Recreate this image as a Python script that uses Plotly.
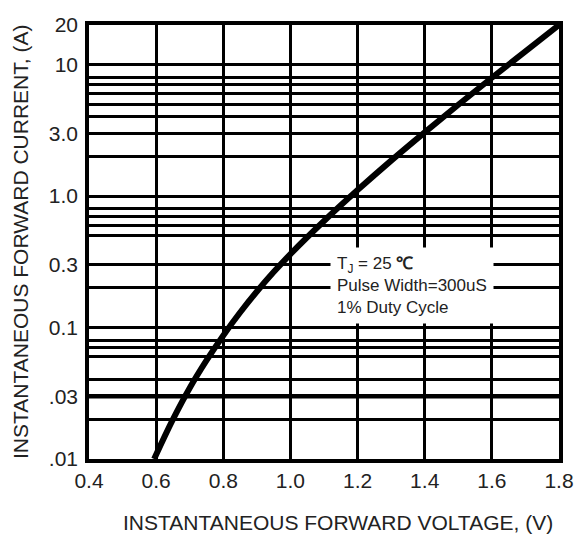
import math
import plotly.graph_objects as go

# Data
voltage = [0.594, 0.65, 0.70, 0.75, 0.80, 0.85, 0.90, 0.95, 1.00, 1.10, 1.20, 1.30, 1.40, 1.50, 1.60, 1.70, 1.80]
current = [0.01, 0.020, 0.0347, 0.0562, 0.0871, 0.130, 0.188, 0.264, 0.362, 0.646, 1.11, 1.86, 3.05, 4.95, 7.94, 12.6, 20]

x_tick_vals = [0.4, 0.6, 0.8, 1.0, 1.2, 1.4, 1.6, 1.8]
x_tick_text = ["0.4", "0.6", "0.8", "1.0", "1.2", "1.4", "1.6", "1.8"]
y_tick_vals = [20, 10, 3, 1, 0.3, 0.1, 0.03, 0.01]
y_tick_text = ["20", "10", "3.0", "1.0", "0.3", "0.1", ".03", ".01"]
y_minor_grid = [8, 7, 6, 5, 4, 2, 0.8, 0.7, 0.6, 0.5, 0.2, 0.08, 0.07, 0.06, 0.04, 0.02]
heavy_grid = [0.03]

x_title = "INSTANTANEOUS FORWARD VOLTAGE, (V)"
y_title = "INSTANTANEOUS FORWARD CURRENT, (A)"
note = "T<sub>J</sub> = 25 <b>℃</b><br>Pulse Width=300uS<br>1% Duty Cycle"

FONT = "Liberation Sans, Arial, sans-serif"
TXT = "#222222"

fig = go.Figure()
for g in heavy_grid:
    fig.add_trace(go.Scatter(x=[x_tick_vals[0], x_tick_vals[-1]], y=[g, g], mode="lines",
                             line=dict(color="black", width=4.5), hoverinfo="skip", cliponaxis=True))
fig.add_trace(go.Scatter(x=voltage, y=current, mode="lines",
                         line=dict(color="black", width=6, shape="spline", smoothing=1.0),
                         hoverinfo="skip"))

fig.update_layout(
    width=586, height=542,
    margin=dict(l=89, r=21, t=25, b=83),
    paper_bgcolor="white", plot_bgcolor="white",
    showlegend=False,
    font=dict(family=FONT, size=21, color=TXT),
)
fig.update_xaxes(
    range=[0.4, 1.8], tickvals=x_tick_vals, ticktext=x_tick_text,
    showgrid=True, gridcolor="black", gridwidth=2.5,
    showline=True, linecolor="black", linewidth=3.5, mirror=True,
    ticks="", zeroline=False, tickfont=dict(size=21, color=TXT),
)
fig.update_yaxes(
    type="log", range=[-2, math.log10(20)],
    tickvals=y_tick_vals, ticktext=y_tick_text,
    showgrid=True, gridcolor="black", gridwidth=2.5,
    minor=dict(tickvals=y_minor_grid, showgrid=True, gridcolor="black", gridwidth=2.5, ticks=""),
    showline=True, linecolor="black", linewidth=3.5, mirror=True,
    ticks="outside", ticklen=3, tickcolor="rgba(0,0,0,0)", zeroline=False,
    tickfont=dict(size=21, color=TXT),
)

fig.add_annotation(text=note, xref="paper", yref="paper", x=0.5126, y=0.399,
                   xanchor="left", yanchor="middle", align="left", showarrow=False,
                   bgcolor="white", borderpad=6, font=dict(size=17, color=TXT, family=FONT))
fig.add_annotation(text=x_title, xref="paper", yref="paper", x=0.53, y=0, yanchor="middle",
                   yshift=-63, showarrow=False, font=dict(size=21, color=TXT, family=FONT))
fig.add_annotation(text=y_title, xref="paper", yref="paper", x=0, y=0.5, xanchor="center",
                   xshift=-69, textangle=-90, showarrow=False, font=dict(size=21, color=TXT, family=FONT))

fig.write_html("out.html", config={"displayModeBar": False},
               post_script="document.body.style.margin='0px';")
